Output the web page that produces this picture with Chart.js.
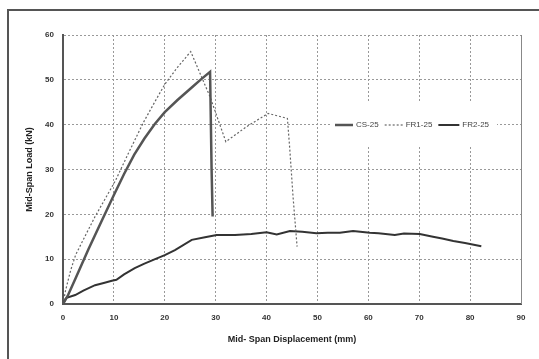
<!DOCTYPE html>
<html>
<head>
<meta charset="utf-8">
<script src="https://cdn.jsdelivr.net/npm/chart.js@4/dist/chart.umd.min.js"></script>
<style>
  html, body { margin: 0; padding: 0; background: #fff; }
  #wrap { position: relative; width: 539px; height: 359px; overflow: hidden; }
  #frame { position: absolute; left: 7px; top: 9px; width: 600px; height: 400px;
           border-left: 2px solid #555; border-top: 2px solid #555; }
  canvas { position: absolute; left: 0; top: 0; }
</style>
</head>
<body>
<div id="wrap">
  <div id="frame"></div>
  <canvas id="myChart" width="539" height="359"></canvas>
</div>
<script>
// series (displacement in mm, load in kN)
var csX = [0, 1, 2.5, 5, 7.5, 10, 12, 14, 16, 18, 20, 22.5, 25.3, 27, 28.9, 29.2, 29.4];
var csY = [0, 2, 5.8, 12.2, 18.3, 24.3, 29, 33.3, 36.9, 40.1, 42.8, 45.5, 48.3, 50, 51.8, 30, 19.5];

var fr1X = [0, 0.5, 1.5, 2.5, 4.5, 6.3, 8.3, 10.3, 12.8, 15.8, 18, 20, 22.5, 25.1, 28.9, 32, 36, 40.3, 44.1, 44.6, 45.2, 45.7, 46];
var fr1Y = [0, 3, 7.5, 11, 15.5, 19.5, 23.5, 27.5, 33.5, 40.5, 45, 49, 52.8, 56.3, 46.2, 36.2, 39.5, 42.5, 41.4, 34, 24, 17, 12.8];

var fr2X = [0, 0.7, 2.4, 4, 6.3, 8, 9.6, 10.5, 12, 14.1, 16, 18.1, 20, 22, 25.3, 27.9, 30.2, 33.8, 37, 40, 42, 44.6, 47, 49.8, 52, 54.4, 57, 60.3, 62, 65.2, 67, 70.1, 72.7, 74.5, 76.7, 79, 82.2];
var fr2Y = [0, 1.4, 2.0, 3.0, 4.2, 4.7, 5.2, 5.4, 6.6, 8.0, 9.0, 10, 10.9, 12, 14.3, 14.9, 15.4, 15.4, 15.6, 16.0, 15.5, 16.3, 16.1, 15.8, 15.9, 15.9, 16.3, 15.9, 15.8, 15.4, 15.7, 15.6, 15.0, 14.6, 14.05, 13.6, 12.9];

var seriesNames = ['CS-25', 'FR1-25', 'FR2-25'];
var xTicks = [0, 10, 20, 30, 40, 50, 60, 70, 80, 90];
var yTicks = [0, 10, 20, 30, 40, 50, 60];

function pts(xs, ys) {
    var out = [];
    for (var i = 0; i < xs.length; i++) out.push({x: xs[i], y: ys[i]});
    return out;
}

var styles = [
    {color: '#555', width: 2.5, dash: []},
    {color: '#666', width: 1.2, dash: [2, 2]},
    {color: '#333', width: 2, dash: []}
];

// legend drawn inside the plot, with a white box over the grid
var insideLegend = {
    id: 'insideLegend',
    afterDatasetsDraw: function(chart) {
        var ctx = chart.ctx;
        var a = chart.chartArea;
        // right edge of plot area is solid
        ctx.save();
        ctx.strokeStyle = '#888';
        ctx.lineWidth = 1;
        ctx.beginPath();
        ctx.moveTo(a.right + 0.5, a.top);
        ctx.lineTo(a.right + 0.5, a.bottom);
        ctx.stroke();

        var bx = a.left + 267, by = a.top + 66;
        ctx.fillStyle = '#fff';
        ctx.fillRect(bx, by, 167, 45);
        ctx.font = '8px Arial';
        ctx.textBaseline = 'middle';
        var cy = by + 24;
        var x = bx + 5;
        var lens = [18, 18, 21];
        for (var i = 0; i < seriesNames.length; i++) {
            var s = styles[i];
            ctx.strokeStyle = s.color;
            ctx.lineWidth = s.width;
            ctx.setLineDash(s.dash);
            ctx.beginPath();
            ctx.moveTo(x, cy);
            ctx.lineTo(x + lens[i], cy);
            ctx.stroke();
            ctx.setLineDash([]);
            x += lens[i] + 3;
            ctx.fillStyle = '#444';
            ctx.fillText(seriesNames[i], x, cy);
            x += ctx.measureText(seriesNames[i]).width + 6;
        }
        ctx.restore();
    }
};

var ctx = document.getElementById('myChart').getContext('2d');
var myChart = new Chart(ctx, {
    type: 'scatter',
    data: {
        datasets: [
            {label: seriesNames[0], data: pts(csX, csY)},
            {label: seriesNames[1], data: pts(fr1X, fr1Y)},
            {label: seriesNames[2], data: pts(fr2X, fr2Y)}
        ].map(function(d, i) {
            d.showLine = true;
            d.borderColor = styles[i].color;
            d.borderWidth = styles[i].width;
            d.borderDash = styles[i].dash;
            d.pointRadius = 0;
            d.pointHoverRadius = 0;
            d.tension = 0;
            return d;
        })
    },
    options: {
        responsive: false,
        animation: false,
        layout: {padding: {left: 20, top: 35, right: 18, bottom: 0}},
        plugins: {legend: {display: false}, tooltip: {enabled: false}},
        scales: {
            x: {
                type: 'linear', min: 0, max: 90,
                afterBuildTicks: function(s) { s.ticks = xTicks.map(function(v) { return {value: v}; }); },
                afterFit: function(s) { s.height = 55; },
                grid: {color: '#999', drawTicks: false},
                border: {color: '#555', width: 2, dash: [2, 2]},
                ticks: {padding: 9, color: '#333', font: {family: 'Arial', size: 8, weight: 'bold'}},
                title: {display: true, text: 'Mid- Span Displacement (mm)', color: '#222',
                        font: {family: 'Arial', size: 9, weight: 'bold'}, padding: {top: 4, bottom: 14}}
            },
            y: {
                type: 'linear', min: 0, max: 60,
                afterBuildTicks: function(s) { s.ticks = yTicks.map(function(v) { return {value: v}; }); },
                afterFit: function(s) { s.width = 43; },
                grid: {color: '#999', drawTicks: false},
                border: {color: '#555', width: 2, dash: [2, 2]},
                ticks: {padding: 9, color: '#333', font: {family: 'Arial', size: 8, weight: 'bold'}},
                title: {display: true, text: 'Mid-Span Load (kN)', color: '#222',
                        font: {family: 'Arial', size: 9, weight: 'bold'}, padding: {top: 4, bottom: 4}}
            }
        }
    },
    plugins: [insideLegend]
});
</script>
</body>
</html>
